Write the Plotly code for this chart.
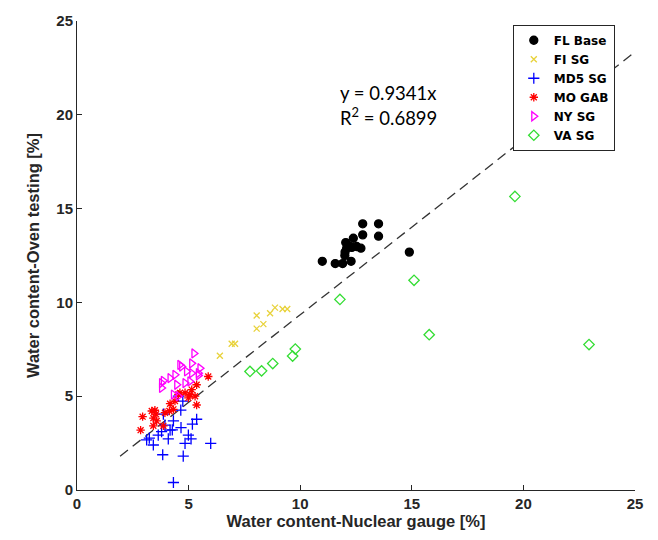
import plotly.graph_objects as go

# ---- data ----
fl_x = [10.99, 11.57, 11.90, 12.28, 12.01, 12.08, 12.04, 12.38, 12.31, 12.53, 12.72, 12.80, 12.80, 13.51, 13.51, 14.89, 12.00, 12.20]
fl_y = [12.19, 12.07, 12.07, 12.19, 12.68, 12.89, 13.19, 13.42, 12.93, 12.98, 12.89, 13.60, 14.19, 14.19, 13.53, 12.68, 12.50, 13.00]

fi_x = [8.05, 8.65, 8.87, 9.21, 9.42, 8.05, 8.35, 6.93, 7.08, 6.40]
fi_y = [9.30, 9.42, 9.72, 9.65, 9.65, 8.60, 8.84, 7.80, 7.80, 7.16]

md_x = [4.32, 3.84, 4.76, 5.99, 4.84, 5.11, 4.99, 5.36, 5.17, 4.66, 4.09, 3.42, 3.12, 3.24, 3.64, 3.79, 4.17, 4.27, 3.94, 4.32, 3.87, 4.65, 4.74, 4.54]
md_y = [0.40, 1.88, 1.81, 2.49, 2.49, 2.72, 2.93, 3.77, 3.51, 3.33, 2.72, 2.40, 2.67, 2.77, 2.93, 3.11, 3.19, 3.21, 3.46, 3.68, 4.04, 4.26, 4.74, 5.00]

mo_x = [2.85, 2.94, 3.35, 3.49, 3.54, 3.42, 3.57, 3.42, 3.87, 4.14, 4.17, 4.39, 4.54, 4.84, 5.06, 5.14, 5.36, 5.29, 5.36, 5.88, 4.99, 4.32, 4.61, 3.94]
mo_y = [3.19, 3.91, 4.21, 4.25, 4.04, 3.83, 3.68, 3.42, 3.42, 4.21, 4.60, 4.74, 5.09, 5.18, 5.09, 5.35, 5.61, 5.00, 4.53, 6.05, 4.91, 4.30, 5.18, 4.12]

ny_x = [5.24, 5.14, 4.61, 4.69, 5.51, 4.91, 5.14, 5.44, 5.44, 4.39, 4.17, 3.87, 3.79, 3.79, 4.47, 4.84, 5.06, 4.54, 4.32]
ny_y = [7.28, 6.75, 6.67, 6.58, 6.49, 6.32, 6.23, 6.23, 6.11, 6.14, 5.96, 5.82, 5.70, 5.44, 5.61, 5.70, 5.79, 5.00, 5.09]

va_x = [19.62, 15.10, 11.78, 15.78, 22.94, 9.78, 9.66, 8.77, 8.27, 7.75]
va_y = [15.65, 11.18, 10.16, 8.28, 7.75, 7.51, 7.14, 6.74, 6.35, 6.32]

slope = 0.9341
r2 = 0.6899
fit_x = [1.93, 25.0]
fit_y = [slope * v for v in fit_x]

tick_vals = [0, 5, 10, 15, 20, 25]

fig = go.Figure()

fig.add_trace(go.Scatter(x=fit_x, y=fit_y, mode="lines", showlegend=False,
                         line=dict(color="#333333", width=1.3, dash="10px,6px"),
                         hoverinfo="skip"))

series = [
    ("FL Base", fl_x, fl_y, "circle", "black", 8),
    ("FI SG", fi_x, fi_y, "x-thin-open", "#e8d23a", 6),
    ("MD5 SG", md_x, md_y, "cross-thin-open", "#0000ff", 8),
    ("MO GAB", mo_x, mo_y, "asterisk-open", "#ff0000", 7),
    ("NY SG", ny_x, ny_y, "triangle-right-open", "#ff00ff", 8),
    ("VA SG", va_x, va_y, "diamond-open", "#33dd33", 8),
]
for name, xs, ys, sym, col, sz in series:
    fig.add_trace(go.Scatter(
        x=xs, y=ys, mode="markers", name=name,
        marker=dict(symbol=sym, color=col, size=sz,
                    line=dict(color=col, width=1.3)),
    ))

axis_common = dict(
    range=[0, 25], tickvals=tick_vals, ticks="inside", ticklen=5,
    tickcolor="#262626", showline=True, linecolor="#262626", linewidth=1,
    showgrid=False, zeroline=False, mirror=False,
    tickfont=dict(family="Liberation Sans", size=15, color="#262626", weight="bold"),
)

title_font = dict(family="Liberation Sans", size=16.5, color="#262626", weight="bold")
fig.update_xaxes(**axis_common,
                 title=dict(text="Water content-Nuclear gauge [%]", standoff=3, font=title_font))
fig.update_yaxes(**axis_common,
                 title=dict(text="Water content-Oven testing [%]", standoff=12, font=title_font))

fig.add_annotation(x=11.69, y=21.16, xref="x", yref="y", text="y = " + str(slope) + "x",
                   showarrow=False, xanchor="left", yanchor="middle",
                   font=dict(family="Lato", size=18.5, color="black"))
fig.add_annotation(x=11.69, y=19.9, xref="x", yref="y", text="R<sup>2</sup> = " + str(r2),
                   showarrow=False, xanchor="left", yanchor="middle",
                   font=dict(family="Lato", size=18.5, color="black"))

fig.update_layout(
    width=658, height=540,
    margin=dict(l=77, r=23, t=15, b=50),
    plot_bgcolor="white", paper_bgcolor="white",
    legend=dict(x=0.781, y=0.992, xanchor="left", yanchor="top",
                bgcolor="white", bordercolor="#262626", borderwidth=1,
                font=dict(family="DejaVu Sans", size=12, color="black", weight="bold"),
                tracegroupgap=0),
    showlegend=True,
)

fig.write_html("out.html")
